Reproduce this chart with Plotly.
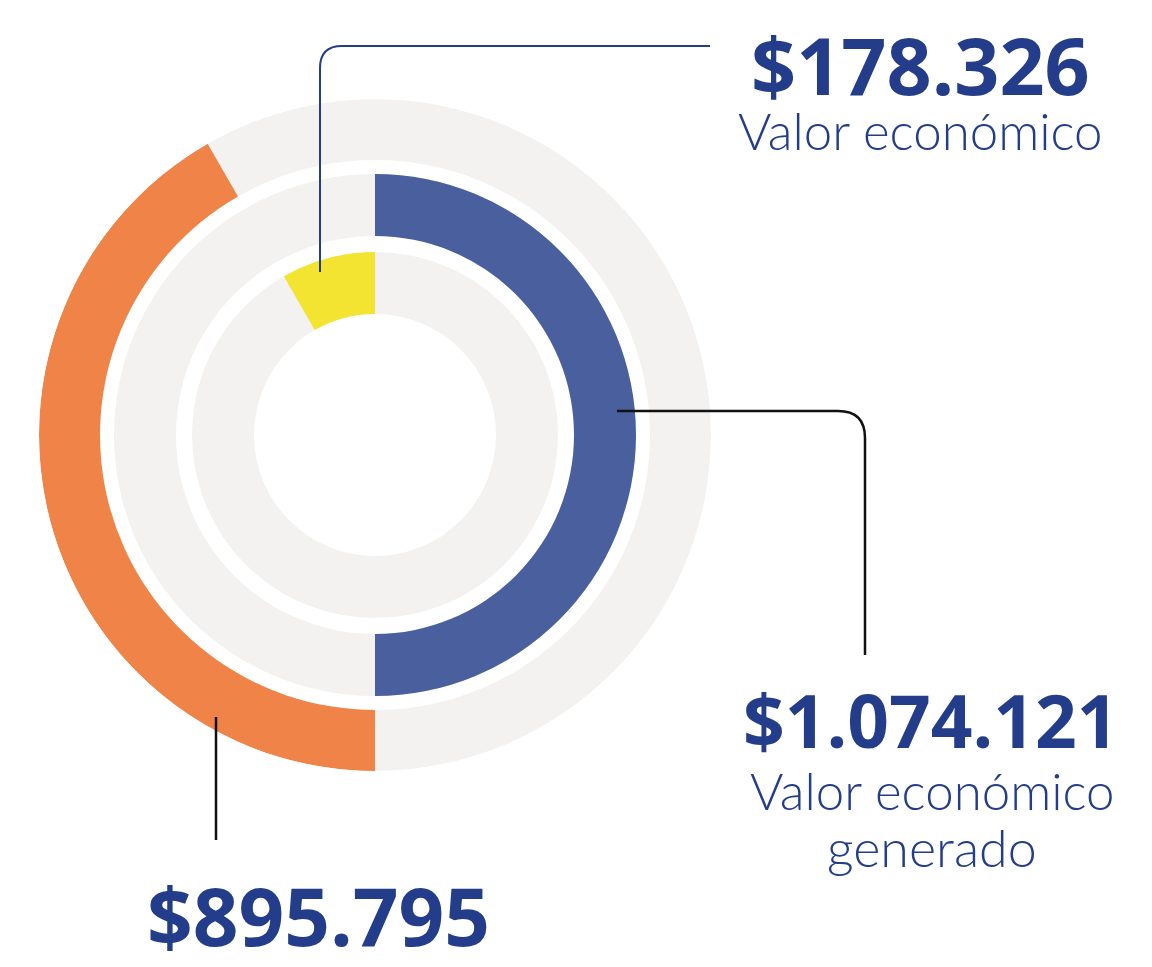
import plotly.graph_objects as go

# valores (pesos)
labels = ["Valor económico distribuido", "Valor económico generado", "Valor económico retenido"]
values = [895795, 1074121, 178326]
colors = ["#EF8348", "#4A5F9E", "#F4E432"]
value_text = ["$895.795", "$1.074.121", "$178.326"]

# page body has an 8px margin, so work in window pixels and shift
OFF = 8
W, H = 1152 - 2 * OFF, 967 - 2 * OFF
cx, cy, R = 375, 435, 336

# anillos: radio interior / exterior (px)
rings = [(275, 336), (199, 261), (121, 183)]

# el valor generado ocupa media circunferencia
full = values[1]
deg = [v / full * 180 for v in values]
# orange clockwise from 6 o'clock, blue clockwise from 12, yellow counter-clockwise from 12
theta = [180 + deg[0] / 2, deg[1] / 2, 360 - deg[2] / 2]

fig = go.Figure()

for (r0, r1) in rings:
    fig.add_trace(go.Barpolar(
        r=[r1 - r0], base=[r0], theta=[180], width=[360],
        marker=dict(color="#F3F2F0", line=dict(width=0)),
        hoverinfo="skip", showlegend=False,
    ))

for i, (r0, r1) in enumerate(rings):
    fig.add_trace(go.Barpolar(
        r=[r1 - r0], base=[r0], theta=[theta[i]], width=[deg[i]],
        marker=dict(color=colors[i], line=dict(width=0)),
        name=labels[i], showlegend=False,
    ))


def px(x):
    return (x - OFF) / W


def py(y):
    return 1 - (y - OFF) / H


def path(pts):
    out = []
    for cmd, *xy in pts:
        coords = [f"{px(xy[j]):.5f},{py(xy[j + 1]):.5f}" for j in range(0, len(xy), 2)]
        out.append(cmd + " ".join(coords))
    return " ".join(out)


navy = "#233D8A"

shapes = [
    dict(type="path", xref="paper", yref="paper",
         path=path([("M", 320, 272), ("L", 320, 68), ("Q", 320, 46, 342, 46), ("L", 710, 46)]),
         line=dict(color=navy, width=2)),
    dict(type="path", xref="paper", yref="paper",
         path=path([("M", 617, 411), ("L", 838, 411), ("Q", 865, 411, 865, 438), ("L", 865, 655)]),
         line=dict(color="#111111", width=2.5)),
    dict(type="path", xref="paper", yref="paper",
         path=path([("M", 216, 717), ("L", 216, 840)]),
         line=dict(color="#111111", width=2.5)),
]

bold = "Open Sans, sans-serif"
light = "Lato, Open Sans, sans-serif"

annotations = [
    dict(text=value_text[2], x=px(920), y=py(65), font=dict(family=bold, size=79, color=navy, weight=700)),
    dict(text="Valor económico", x=px(920), y=py(131), font=dict(family=light, size=51, color=navy, weight=300)),
    dict(text=value_text[1], x=px(931), y=py(719), font=dict(family=bold, size=73, color=navy, weight=700)),
    dict(text="Valor económico", x=px(932), y=py(790), font=dict(family=light, size=51, color=navy, weight=300)),
    dict(text="generado", x=px(932), y=py(847), font=dict(family=light, size=52, color=navy, weight=300)),
    dict(text=value_text[0], x=px(318), y=py(914), font=dict(family=bold, size=80, color=navy, weight=700)),
]
for a in annotations:
    a.update(xref="paper", yref="paper", showarrow=False, xanchor="center", yanchor="middle")

fig.update_layout(
    width=W, height=H,
    margin=dict(l=0, r=0, t=0, b=0),
    paper_bgcolor="white", plot_bgcolor="white",
    polar=dict(
        domain=dict(x=[px(cx - R), px(cx + R)], y=[py(cy + R), py(cy - R)]),
        bgcolor="rgba(0,0,0,0)",
        radialaxis=dict(range=[0, R], visible=False),
        angularaxis=dict(rotation=90, direction="clockwise", visible=False),
        barmode="overlay",
    ),
    shapes=shapes,
    annotations=annotations,
)

fig.write_html("out.html")
